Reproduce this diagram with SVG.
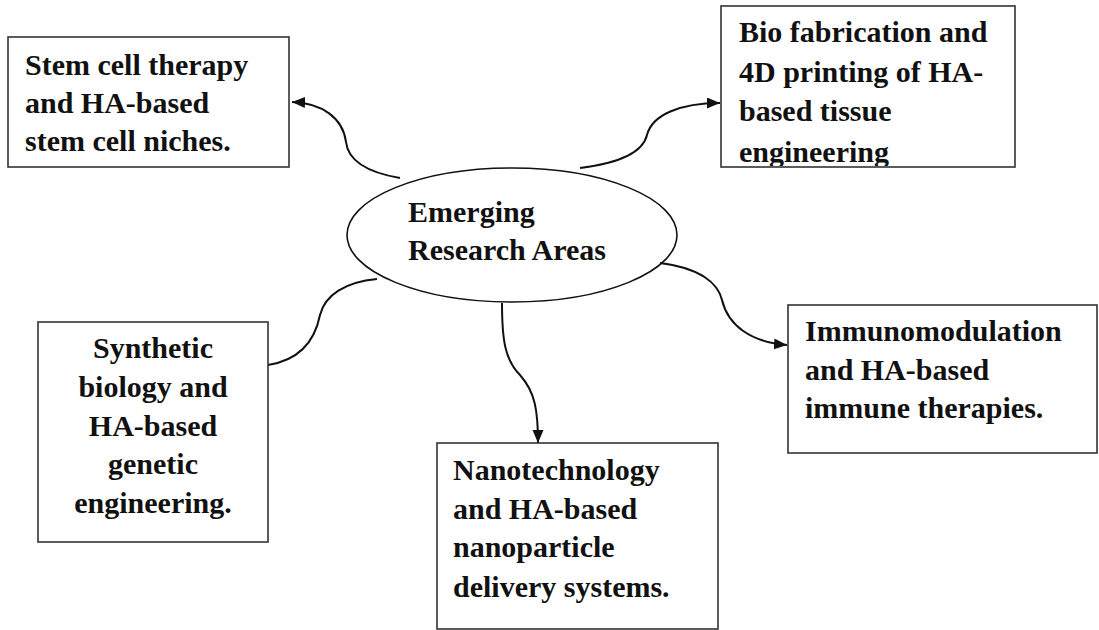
<svg xmlns="http://www.w3.org/2000/svg" width="1099" height="630" viewBox="0 0 1099 630">
<style>
.box{fill:#fff;stroke:#333;stroke-width:1.6}
.t{font-family:"Liberation Serif","Times New Roman",serif;font-weight:bold;font-size:30px;fill:#111}
.c{fill:none;stroke:#111;stroke-width:2}
</style>
<defs>
<marker id="ah" markerUnits="userSpaceOnUse" markerWidth="15" markerHeight="12" refX="13" refY="5.5" orient="auto">
<path d="M0,0 L13,5.5 L0,11 Z" fill="#111"/>
</marker>
<clipPath id="clipBio"><rect x="721" y="6" width="294" height="160"/></clipPath>
</defs>
<rect width="1099" height="630" fill="#fff"/>
<g id="connectors">
<path class="c" d="M400,178 C365,172 348,160 346,142 C343,118 322,103 292,102" marker-end="url(#ah)"/>
<path class="c" d="M580,168 C620,163 643,152 647,135 C652,115 680,103 720,103" marker-end="url(#ah)"/>
<path class="c" d="M377,279 C345,282 325,295 320,315 C315,340 300,360 268,365"/>
<path class="c" d="M502,303 C502,340 505,360 520,375 C535,392 538,410 538,443" marker-end="url(#ah)"/>
<path class="c" d="M660,263 C700,268 718,283 722,300 C728,325 750,342 787,345" marker-end="url(#ah)"/>
</g>
<g id="center">
<ellipse cx="512" cy="235" rx="165" ry="67" fill="none" stroke="#111" stroke-width="1.6"/>
<text class="t" x="408" y="222">Emerging</text>
<text class="t" x="408" y="260">Research Areas</text>
</g>
<g id="stem">
<rect class="box" x="8" y="37" width="281" height="130"/>
<text class="t" x="25" y="75">Stem cell therapy</text>
<text class="t" x="25" y="113">and HA-based</text>
<text class="t" x="25" y="151">stem cell niches.</text>
</g>
<g id="biofab">
<rect class="box" x="721" y="6" width="294" height="161"/>
<g clip-path="url(#clipBio)">
<text class="t" x="739" y="42">Bio fabrication and</text>
<text class="t" x="739" y="82">4D printing of HA-</text>
<text class="t" x="739" y="121">based tissue</text>
<text class="t" x="739" y="162">engineering</text>
</g>
</g>
<g id="synthetic">
<rect class="box" x="38" y="322" width="230" height="220"/>
<text class="t" x="153" y="358" text-anchor="middle">Synthetic</text>
<text class="t" x="153" y="397" text-anchor="middle">biology and</text>
<text class="t" x="153" y="436" text-anchor="middle">HA-based</text>
<text class="t" x="153" y="474" text-anchor="middle">genetic</text>
<text class="t" x="153" y="513" text-anchor="middle">engineering.</text>
</g>
<g id="nano">
<rect class="box" x="437" y="443" width="281" height="186"/>
<text class="t" x="453" y="480">Nanotechnology</text>
<text class="t" x="453" y="519">and HA-based</text>
<text class="t" x="453" y="557">nanoparticle</text>
<text class="t" x="453" y="597">delivery systems.</text>
</g>
<g id="immuno">
<rect class="box" x="788" y="305" width="309" height="148"/>
<text class="t" x="805" y="341">Immunomodulation</text>
<text class="t" x="805" y="380">and HA-based</text>
<text class="t" x="805" y="418">immune therapies.</text>
</g>
</svg>
